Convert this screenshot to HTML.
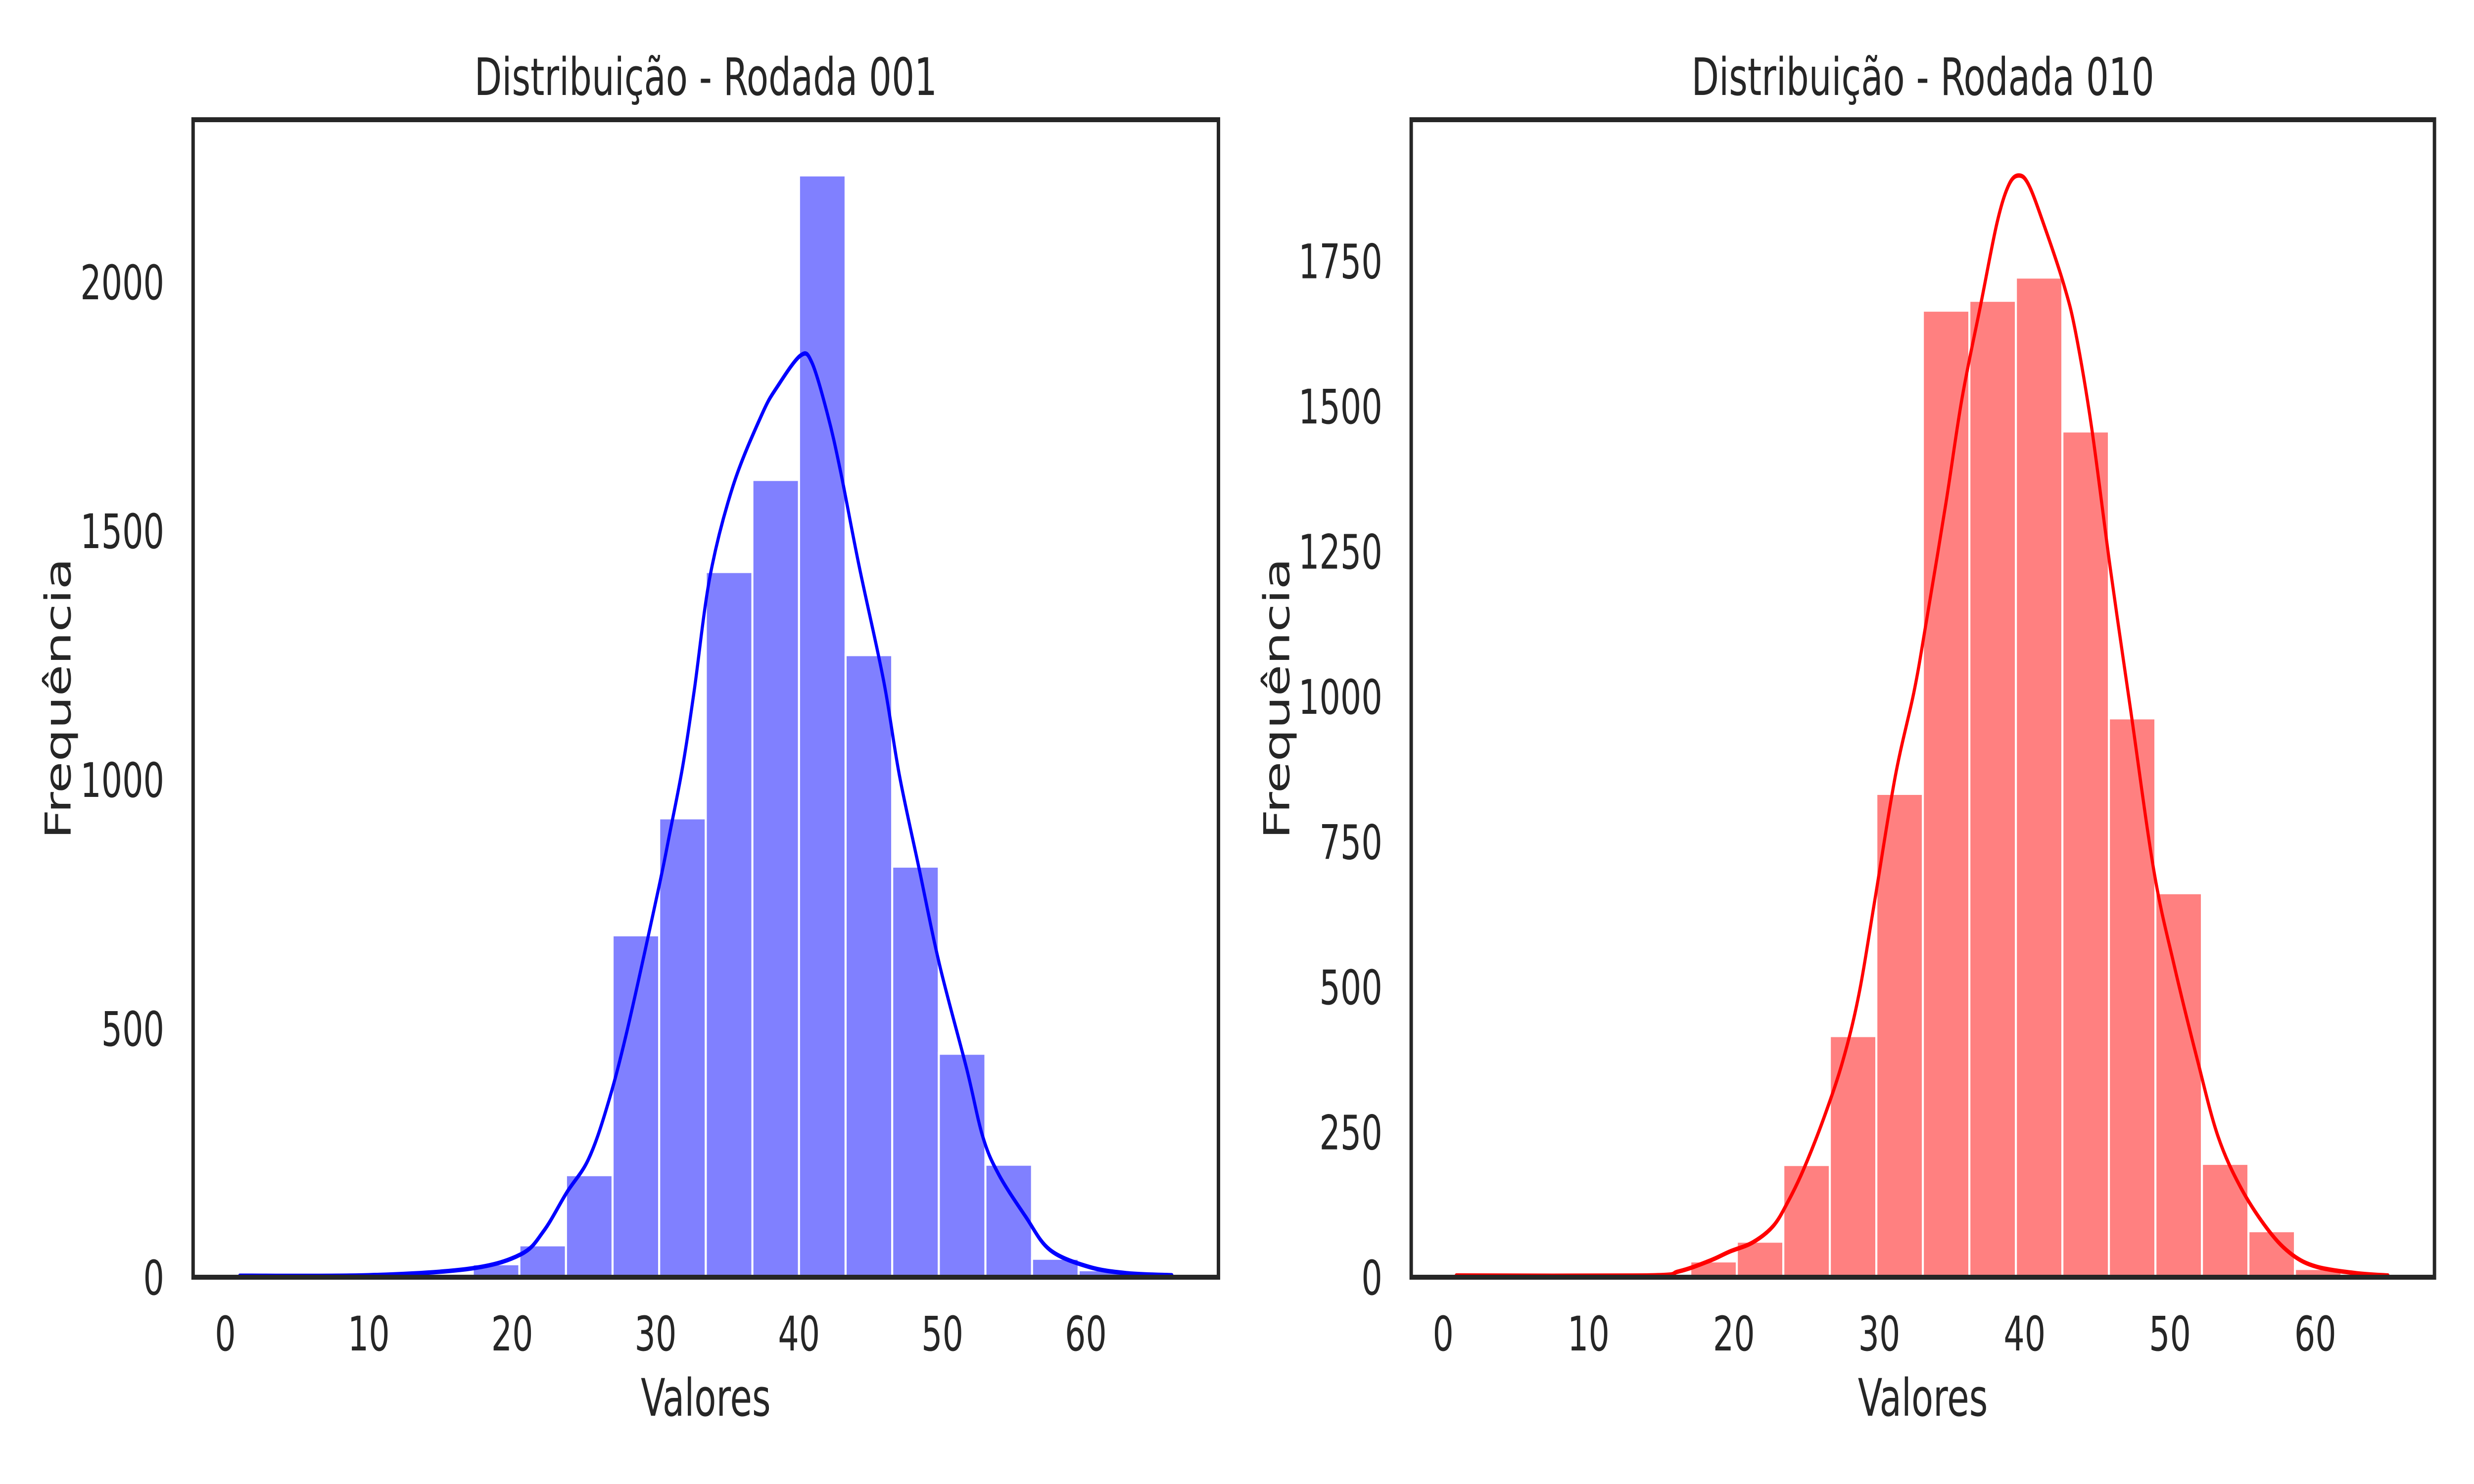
<!DOCTYPE html>
<html><head><meta charset="utf-8"><style>
html,body{margin:0;padding:0;background:#fff;overflow:hidden;width:100%;height:100%;}
svg{display:block;position:absolute;left:0;top:0;width:100vw;height:100vh;font-family:"DejaVu Sans","Liberation Sans",sans-serif;}
</style></head><body>
<svg id="fig" viewBox="0 0 7200 3000" preserveAspectRatio="none" xmlns="http://www.w3.org/2000/svg"></svg>
<script>
// ---- data: left panel (Rodada 001)
const leftBinStart = 1;
const leftBinWidth = 3.25;
const leftCounts = [1,0,1,3,8,27,65,206,688,923,1418,1603,2215,1251,826,450,227,38,15,4];
const leftKdeX = [1,10,17,20.6,22.2,23.8,25.3,26.6,28.0,30.2,31.0,31.9,32.7,33.8,35.4,37.4,38.5,40.1,40.9,42.0,42.9,44.2,45.9,47.0,48.4,49.8,51.7,52.8,53.9,55.8,57.5,60.2,62.9,66.0];
const leftKdeY = [3,4,17,46,93,170,236,341,494,780,894,1028,1180,1409,1590,1733,1790,1852,1838,1733,1619,1428,1199,1009,818,628,418,284,208,122,55,21,8,4];
const leftYTicks = [0,500,1000,1500,2000];
// ---- data: right panel (Rodada 010)
const rightBinStart = 1;
const rightBinWidth = 3.2;
const rightCounts = [1,0,0,1,3,28,62,194,416,833,1665,1682,1722,1457,963,662,196,80,15,3];
const rightKdeX = [0.9,14,16.2,18.3,19.7,21.3,22.7,23.7,24.8,26.2,27.5,28.6,29.7,31.1,32.4,33.2,34.6,35.7,37.0,38.1,38.9,39.6,40.3,41.4,42.7,43.5,44.6,45.9,47.3,48.9,50.3,51.9,53.3,54.9,56.8,58.4,60.1,62.8,65];
const rightKdeY = [3,3,10,28,44,60,88,129,186,275,373,487,650,862,1009,1123,1335,1514,1677,1815,1880,1897,1880,1807,1709,1628,1465,1220,976,699,536,373,243,153,80,39,18,7,3];
const rightYTicks = [0,250,500,750,1000,1250,1500,1750];
const xTicks = [0,10,20,30,40,50,60];

const NS = "http://www.w3.org/2000/svg";
const svg = document.getElementById('fig');
function mk(tag, attrs, parent){
  const e = document.createElementNS(NS, tag);
  for (const k in attrs) e.setAttribute(k, attrs[k]);
  (parent||svg).appendChild(e);
  return e;
}
function smoothPath(pts){
  let d = 'M' + pts[0][0].toFixed(1) + ',' + pts[0][1].toFixed(1);
  for (let i=0;i<pts.length-1;i++){
    const p0 = pts[i-1]||pts[i], p1 = pts[i], p2 = pts[i+1], p3 = pts[i+2]||pts[i+1];
    const c1x = p1[0] + (p2[0]-p0[0])/6, c1y = p1[1] + (p2[1]-p0[1])/6;
    const c2x = p2[0] - (p3[0]-p1[0])/6, c2y = p2[1] - (p3[1]-p1[1])/6;
    d += 'C' + c1x.toFixed(1)+','+c1y.toFixed(1)+' '+c2x.toFixed(1)+','+c2y.toFixed(1)+' '+p2[0].toFixed(1)+','+p2[1].toFixed(1);
  }
  return d;
}

function panel(cfg){
  const g = mk('g', {});
  
  
  const L=cfg.left, R=cfg.right, T=242, B=2582;
  const sx = v => L + (v - cfg.xmin) / (cfg.xmax - cfg.xmin) * (R - L);
  const sy = v => B - v / cfg.ymax * (B - T);
  cfg.counts.forEach((c,i)=>{
    if (c <= 0) return;
    const x0 = sx(cfg.binStart + i*cfg.binWidth), x1 = sx(cfg.binStart + (i+1)*cfg.binWidth);
    const r = mk('rect', {x:x0, y:sy(c), width:x1-x0, height:B-sy(c), fill:cfg.barColor, stroke:'#fff', 'stroke-width':6}, g);
    
    
  });
  const pts = cfg.kx.map((x,i)=>[sx(x), sy(cfg.ky[i])]);
  const p = mk('path', {d:smoothPath(pts), fill:'none', stroke:cfg.lineColor, 'stroke-width':9, 'stroke-linejoin':'round', 'stroke-linecap':'round'}, g);
  
  
  const f = mk('rect', {x:L, y:T, width:R-L, height:B-T, fill:'none', stroke:'#262626', 'stroke-width':10}, g);
  
  
  xTicks.forEach(v=>{
    const t = mk('text', {x:sx(v), y:2730, 'text-anchor':'middle', 'font-size':96, fill:'#262626'}, g);
    t.textContent = v;
    
    
  });
  cfg.yTicks.forEach(v=>{
    const t = mk('text', {x:L-84, y:sy(v)+35, 'text-anchor':'end', 'font-size':96, fill:'#262626'}, g);
    t.textContent = v;
    
    
  });
  const xl = mk('text', {x:(L+R)/2, y:2862, 'text-anchor':'middle', 'font-size':104, fill:'#262626'}, g);
  xl.textContent = 'Valores';
  
  
  const yl = mk('text', {x:0, y:0, 'text-anchor':'middle', 'font-size':104, fill:'#262626', transform:'translate('+(cfg.ylabelX)+',1412) rotate(-90)'}, g);
  yl.textContent = 'Frequência';
  
  
  const ti = mk('text', {x:(L+R)/2, y:192, 'text-anchor':'middle', 'font-size':104, fill:'#262626'}, g);
  ti.textContent = cfg.title;
  
  
}

panel({name:'left-panel', left:562, right:3546, xmin:-2.25, xmax:69.25, ymax:2326,
  counts:leftCounts, binStart:leftBinStart, binWidth:leftBinWidth, kx:leftKdeX, ky:leftKdeY,
  yTicks:leftYTicks, barColor:'#8080ff', lineColor:'#0000ff', title:'Distribuição - Rodada 001', ylabelX:205});
panel({name:'right-panel', left:4107, right:7085, xmin:-2.2, xmax:68.2, ymax:1993,
  counts:rightCounts, binStart:rightBinStart, binWidth:rightBinWidth, kx:rightKdeX, ky:rightKdeY,
  yTicks:rightYTicks, barColor:'#ff8080', lineColor:'#ff0000', title:'Distribuição - Rodada 010', ylabelX:3752});
</script>
</body></html>
